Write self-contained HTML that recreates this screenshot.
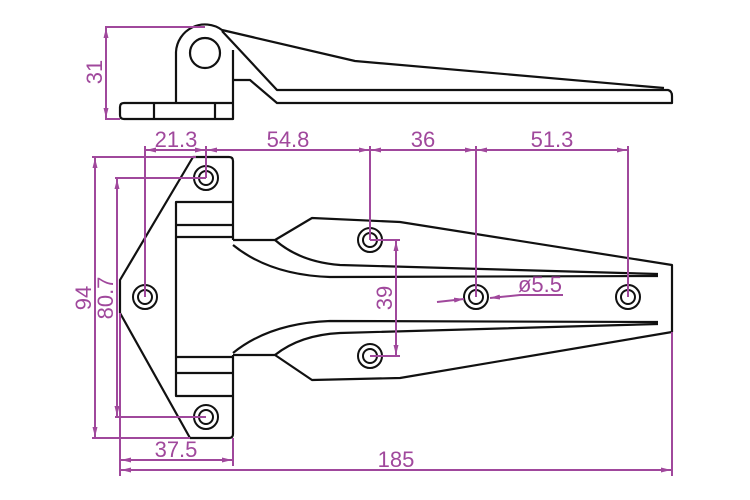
<!DOCTYPE html>
<html><head><style>body{margin:0;background:#fff}svg{display:block}</style></head><body>
<svg width="750" height="500" viewBox="0 0 750 500" xmlns="http://www.w3.org/2000/svg">
<defs>
<marker id="a" viewBox="0 0 10 6" refX="10" refY="3" markerWidth="10" markerHeight="6" orient="auto-start-reverse" markerUnits="userSpaceOnUse"><path d="M0,0.5L10,3L0,5.5z" fill="#a0489c"/></marker>
</defs>
<g fill="none" stroke="#111" stroke-width="2.2" stroke-linejoin="round">
<!-- top view -->
<path d="M176,103 V52 A29,29 0 0 1 222,30 L355,61 L664,88"/>
<circle cx="205" cy="53" r="15"/>
<path d="M222,31 L277,90 L668,90 Q672,91 672,96 V103 H277 L250,80 H233"/>
<path d="M233,50 V119 H124 Q120,119 120,115 V107 Q120,103 124,103 H233"/>
<path d="M154,103 V119 M215,103 V119"/>
<!-- front plate -->
<path d="M233,240 V161 Q233,157 229,157 H193 L120,280 V313 L190,438 H229 Q233,438 233,434 V355"/>
<path d="M176,240 V202 H233 M176,225 H233 M176,237 H233 M176,240 V396 H233 M176,357 H233 M176,373 H233"/>
<!-- leaf -->
<path d="M233,240 H275 L312,218 L400,222 L672,265 V332 L400,378 L312,380 L275,355 H233"/>
<path d="M233,245 Q270,275 330,277 L658,276"/>
<path d="M275,240 Q300,262 340,265 L658,274"/>
<path d="M233,353 Q270,323 330,321 L658,322"/>
<path d="M275,355 Q300,335 340,333 L658,324"/>
<g stroke-width="2">
<circle cx="206" cy="178" r="12"/><circle cx="206" cy="178" r="7"/>
<circle cx="145" cy="297" r="12"/><circle cx="145" cy="297" r="7"/>
<circle cx="206" cy="417" r="12"/><circle cx="206" cy="417" r="7"/>
<circle cx="370" cy="240" r="12"/><circle cx="370" cy="240" r="7"/>
<circle cx="370" cy="356" r="12"/><circle cx="370" cy="356" r="7"/>
<circle cx="476" cy="297" r="12"/><circle cx="476" cy="297" r="7"/>
<circle cx="628" cy="297" r="12"/><circle cx="628" cy="297" r="7"/>
</g>
</g>
<g stroke="#a0489c" stroke-width="2" fill="none">
<path d="M105,27 H205 M105,119 H120"/>
<path d="M145,146 V297 M206,146 V178 M370,146 V240 M476,146 V297 M628,146 V297"/>
<path d="M92,157 H196 M92,438 H190 M115,178 H206 M115,417 H206"/>
<path d="M120,313 V476 M233,438 V466 M672,332 V476"/>
<path d="M370,240 H400 M370,356 H400"/>
<path d="M106,28 V118" marker-start="url(#a)" marker-end="url(#a)"/>
<path d="M146,150 H205" marker-start="url(#a)" marker-end="url(#a)"/>
<path d="M207,150 H369" marker-start="url(#a)" marker-end="url(#a)"/>
<path d="M371,150 H475" marker-start="url(#a)" marker-end="url(#a)"/>
<path d="M477,150 H627" marker-start="url(#a)" marker-end="url(#a)"/>
<path d="M95,158 V437" marker-start="url(#a)" marker-end="url(#a)"/>
<path d="M117,179 V416" marker-start="url(#a)" marker-end="url(#a)"/>
<path d="M121,460 H232" marker-start="url(#a)" marker-end="url(#a)"/>
<path d="M121,470 H671" marker-start="url(#a)" marker-end="url(#a)"/>
<path d="M396,241 V355" marker-start="url(#a)" marker-end="url(#a)"/>
<path d="M437,302 L464,299" marker-end="url(#a)"/>
<path d="M563,295 H520 L490,298" marker-end="url(#a)"/>
</g>
<g fill="#a0489c" font-family="Liberation Sans, sans-serif" font-size="22">
<text x="176" y="147" text-anchor="middle">21.3</text>
<text x="288" y="147" text-anchor="middle">54.8</text>
<text x="423" y="147" text-anchor="middle">36</text>
<text x="552" y="147" text-anchor="middle">51.3</text>
<text x="176" y="457" text-anchor="middle">37.5</text>
<text x="396" y="467" text-anchor="middle">185</text>
<text x="540" y="292" text-anchor="middle">ø5.5</text>
<text transform="translate(102,72) rotate(-90)" text-anchor="middle">31</text>
<text transform="translate(91,298) rotate(-90)" text-anchor="middle">94</text>
<text transform="translate(113,298) rotate(-90)" text-anchor="middle">80.7</text>
<text transform="translate(392,298) rotate(-90)" text-anchor="middle">39</text>
</g>
</svg>
</body></html>
